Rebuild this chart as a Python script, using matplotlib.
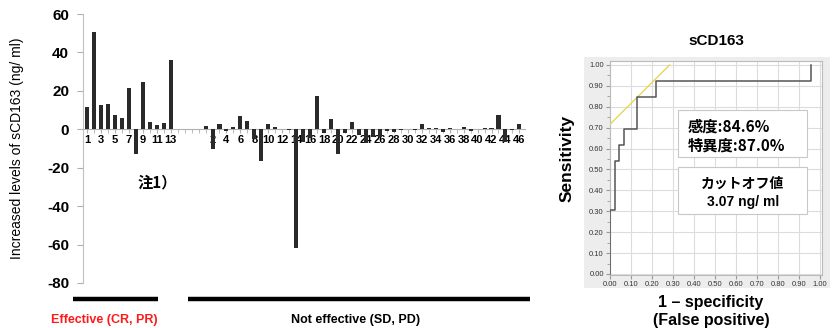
import numpy as np
import matplotlib
matplotlib.use("Agg")
import matplotlib.pyplot as plt
from matplotlib.lines import Line2D
from matplotlib.patches import Rectangle

plt.rcParams['font.family'] = ['Liberation Sans', 'Noto Sans CJK JP', 'DejaVu Sans']

# ---------------- data ----------------
eff_labels = [str(i) for i in range(1, 14)]
eff_values = [11.6, 50.7, 12.7, 13.2, 7.3, 6.1, 21.5, -13.0, 24.7, 3.8, 2.1, 3.3, 35.8]
ne_labels = [str(i) for i in range(1, 47)]
ne_values = [1.5, -10.4, 2.9, -0.8, 1.0, 6.8, 4.2, -5.0, -16.5, 2.9,
             1.0, 0.3, -0.5, -61.9, -6.5, -4.5, 17.3, -1.7, 5.5, -12.7,
             -1.7, 4.0, -3.1, -7.0, -4.2, -4.2, -0.8, -1.2, -0.5, 0.3,
             -0.6, 2.6, 0.5, 0.5, -1.5, 0.5, 0.2, 1.0, -0.8, 0.2,
             0.5, 0.8, 7.6, -6.5, -0.5, 2.6]
y_ticks = [-80, -60, -40, -20, 0, 20, 40, 60]

# ROC (counts of false / true positives at each step)
n_pos, n_neg = 13, 46
roc_fp = [0, 0, 1, 1, 2, 2, 3, 3, 6, 6, 10, 10, 44, 44]
roc_tp = [0, 4, 4, 7, 7, 8, 8, 9, 9, 11, 11, 12, 12, 13]
youden_intercept = 0.716
roc_ticks = [0.0, 0.1, 0.2, 0.3, 0.4, 0.5, 0.6, 0.7, 0.8, 0.9, 1.0]

W, H = 834, 328
fig = plt.figure(figsize=(W / 100, H / 100), dpi=100)

def fx(px):
    return px / W

def fy(py):
    return 1 - py / H

# ---------------- left bar chart ----------------
ax = fig.add_axes([fx(83), fy(283), (525 - 83) / W, (283 - 14) / H])
gap = 4
eff_pos = np.arange(1, len(eff_values) + 1)
ne_pos = len(eff_values) + gap + np.arange(1, len(ne_values) + 1)
bar_color = '#2a2a2a'
ax.bar(eff_pos, eff_values, width=0.58, color=bar_color, zorder=3)
ax.bar(ne_pos, ne_values, width=0.58, color=bar_color, zorder=3)
ax.set_xlim(0.43, ne_pos[-1] + 0.8)
ax.set_ylim(-80, 60)

for s in ['top', 'right']:
    ax.spines[s].set_visible(False)
ax.spines['left'].set_color('#c0c0c0')
ax.spines['bottom'].set_color('#b0b0b0')
ax.spines['bottom'].set_position(('data', 0))
ax.spines['bottom'].set_zorder(2)

ax.set_yticks(y_ticks)
ax.set_yticklabels([str(v) for v in y_ticks], fontsize=11, fontweight='bold')
ax.tick_params(axis='y', length=4, color='#b0b0b0', pad=6)

maj_pos = list(eff_pos[::2]) + list(ne_pos[1::2])
maj_lab = eff_labels[::2] + ne_labels[1::2]
ax.set_xticks(maj_pos)
ax.set_xticklabels(maj_lab, fontsize=8, fontweight='bold')
ax.set_xticks(np.arange(1, ne_pos[-1] + 1), minor=True)
ax.tick_params(axis='x', which='both', length=3, color='#b0b0b0', pad=1)
ax.set_ylabel('Increased levels of sCD163 (ng/ ml)', fontsize=10)
ax.yaxis.set_label_coords(-0.133, 0.5)

ax.text(8.3, -27.5, '注1）', fontsize=11, fontweight='bold', va='center', ha='left',
        family=['Noto Sans CJK JP', 'DejaVu Sans'])

# group bars below
fig.add_artist(Line2D([fx(73), fx(158)], [fy(299), fy(299)], color='black', lw=3.2,
                      solid_capstyle='butt'))
fig.add_artist(Line2D([fx(188), fx(530)], [fy(299), fy(299)], color='black', lw=3.2,
                      solid_capstyle='butt'))
fig.text(fx(104), fy(320), 'Effective (CR, PR)', color='#ff1a1a', fontsize=9,
         fontweight='bold', ha='center', va='center')
fig.text(fx(356), fy(320), 'Not effective (SD, PD)', color='black', fontsize=9,
         fontweight='bold', ha='center', va='center')

# ---------------- ROC panel ----------------
fig.add_artist(Rectangle((fx(584), fy(288)), (830 - 584) / W, (288 - 57) / H,
                         transform=fig.transFigure, facecolor='#ededed',
                         edgecolor='none', zorder=0))
rx = fig.add_axes([fx(610), fy(275), (822 - 610) / W, (275 - 61) / H])
rx.set_facecolor('white')
rx.set_xlim(0, 1.0095)
rx.set_ylim(-0.005, 1.019)
rx.set_xticks(roc_ticks)
rx.set_yticks(roc_ticks)
rx.set_xticklabels([f'{t:.2f}' for t in roc_ticks], fontsize=5.5, color='#333333')
rx.set_yticklabels([f'{t:.2f}' for t in roc_ticks], fontsize=5.5, color='#333333')
rx.set_yticks(np.arange(0.05, 1.0, 0.1), minor=True)
rx.tick_params(axis='both', which='both', length=3, color='#999999', pad=1.5)
rx.tick_params(axis='y', which='minor', length=2)
rx.grid(True, color='#dcdcdc', lw=0.8)
rx.set_axisbelow(True)
for s in rx.spines.values():
    s.set_color('#bbbbbb')
    s.set_linewidth(0.8)

fpr = np.array(roc_fp) / n_neg
tpr = np.array(roc_tp) / n_pos
rx.plot([0, 1 - youden_intercept], [youden_intercept, 1], color='#e6d65a', lw=1.0, zorder=3)
rx.plot(fpr, tpr, color='#555555', lw=1.1, zorder=4)

rx.text(0.5, 1.095, 'sCD163', transform=rx.transAxes, fontsize=11, fontweight='bold',
        ha='center', va='center')
fig.text(fx(567), fy(158), 'Sensitivity', rotation=90, fontsize=12.5, fontweight='bold',
         ha='center', va='center')
fig.text(fx(711), fy(302), '1 – specificity', fontsize=11.5, fontweight='bold',
         ha='center', va='center')
fig.text(fx(711), fy(321), '(False positive)', fontsize=11.5, fontweight='bold',
         ha='center', va='center')

cjk = ['Noto Sans CJK JP', 'DejaVu Sans']
fig.add_artist(Rectangle((fx(678), fy(157)), (807 - 678) / W, (157 - 110) / H,
                         transform=fig.transFigure, facecolor='white',
                         edgecolor='#c8c8c8', lw=0.8, zorder=5))
fig.text(fx(688), fy(127), '感度:84.6%', fontsize=11, fontweight='bold',
         ha='left', va='center', family=cjk, zorder=6)
fig.text(fx(688), fy(146), '特異度:87.0%', fontsize=11, fontweight='bold',
         ha='left', va='center', family=cjk, zorder=6)
fig.add_artist(Rectangle((fx(678), fy(214)), (807 - 678) / W, (214 - 167) / H,
                         transform=fig.transFigure, facecolor='white',
                         edgecolor='#c8c8c8', lw=0.8, zorder=5))
fig.text(fx(743), fy(184), 'カットオフ値', fontsize=10, fontweight='bold',
         ha='center', va='center', family=cjk, zorder=6)
fig.text(fx(743), fy(202), '3.07 ng/ ml', fontsize=10, fontweight='bold',
         ha='center', va='center', family=['Liberation Sans', 'DejaVu Sans'], zorder=6)

fig.savefig('out.png', dpi=100)
